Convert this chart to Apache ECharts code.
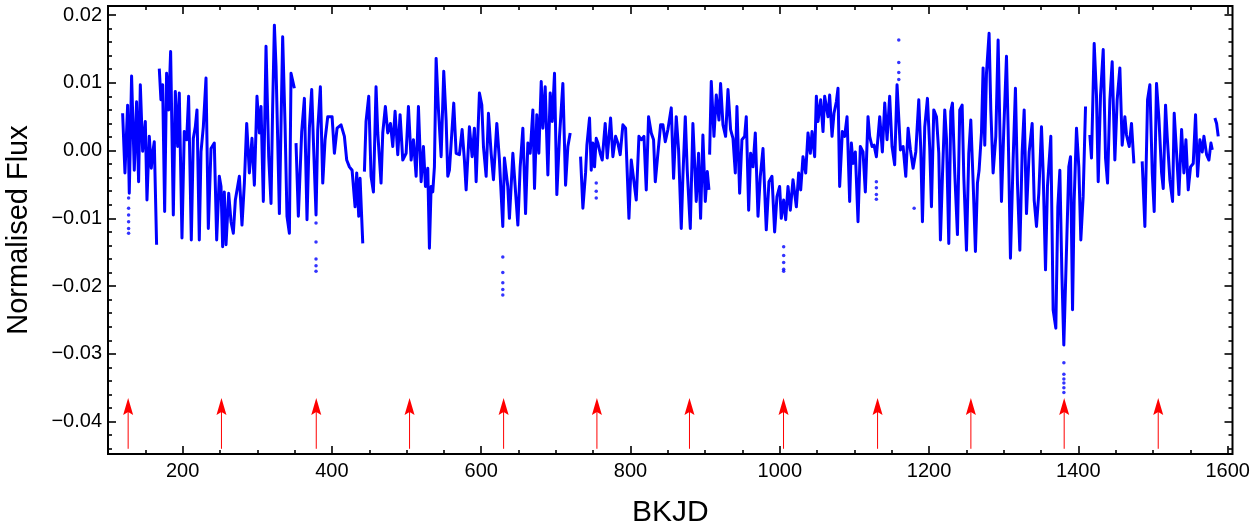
<!DOCTYPE html>
<html><head><meta charset="utf-8">
<script src="https://cdn.jsdelivr.net/npm/echarts@6/dist/echarts.min.js"></script>
<style>html,body{margin:0;padding:0;background:#fff}#c{width:1250px;height:529px}</style>
</head><body><div id="c"></div>
<script>
// ---- tick labels / tick positions ----
const xMajor = [200, 400, 600, 800, 1000, 1200, 1400, 1600];
const xMinor = [100, 150, 250, 300, 350, 450, 500, 550, 650, 700, 750, 850, 900, 950, 1050, 1100, 1150, 1250, 1300, 1350, 1450, 1500, 1550];
const yMajor = [-0.04, -0.03, -0.02, -0.01, 0, 0.01, 0.02];
const yMinor = [-0.044, -0.042, -0.038, -0.036, -0.034, -0.032, -0.028, -0.026, -0.024, -0.022, -0.018, -0.016, -0.014, -0.012, -0.008, -0.006, -0.004, -0.002, 0.002, 0.004, 0.006, 0.008, 0.012, 0.014, 0.016, 0.018];

// ---- light curve segments [BKJD, normalised flux] ----
const seg1 = [[119.6,0.0055],[122.7,-0.0033],[126.3,0.0067],[128.5,-0.0063],[131.6,0.0110],[135.2,-0.0029],[138.3,0.0072],[141.0,-0.0046],[143.3,0.0097],[146.4,-0.0001],[150.0,0.0043],[152.2,-0.0073],[155.3,0.0021],[158.0,-0.0026],[159.8,-0.0004],[162.0,0.0013],[165.1,-0.0139]];
const seg2 = [[168.7,0.0121],[170.9,0.0075],[173.2,0.0097],[175.9,-0.0090],[178.5,0.0114],[181.2,0.0060],[183.9,0.0146],[187.5,-0.0095],[190.2,0.0087],[193.3,0.0006],[195.5,0.0085],[199.1,-0.0129],[202.2,0.0028],[205.4,0.0016],[208.0,0.0080],[211.6,-0.0132],[214.3,0.0018],[217.0,0.0035],[219.2,0.0060],[222.3,-0.0132],[224.6,-0.0002],[227.7,0.0035],[231.3,0.0107],[234.4,-0.0115],[238.0,0.0003],[242.4,0.0011],[245.6,-0.0132],[249.1,-0.0038],[251.4,-0.0053],[253.6,-0.0142],[255.8,-0.0061],[258.1,-0.0139],[261.7,-0.0063],[264.8,-0.0105],[267.9,-0.0122],[270.6,-0.0073],[276.0,-0.0038],[279.5,-0.0110],[282.7,-0.0048],[285.8,0.0040],[289.4,-0.0033],[292.9,0.0018],[296.1,-0.0051],[299.6,0.0080],[302.8,0.0026],[305.0,0.0065],[308.1,-0.0075],[311.7,0.0154],[315.3,-0.0009],[318.4,-0.0078],[320.6,0.0065],[322.9,0.0185],[325.1,0.0124],[329.6,-0.0093],[334.0,0.0168],[337.2,0.0038],[339.8,-0.0097],[343.0,-0.0122],[345.2,0.0114],[349.7,0.0092]];
const seg3 = [[351.9,0.0011],[355.0,-0.0097],[359.5,0.0028],[363.1,0.0077],[366.6,-0.0102],[369.8,0.0033],[372.9,0.0090],[375.1,0.0016],[378.7,-0.0095],[381.0,0.0031],[384.5,0.0094],[387.7,-0.0048],[390.8,0.0016],[394.4,0.0050],[400.2,0.0050],[403.3,-0.0004],[406.9,0.0033],[412.2,0.0038],[416.7,0.0021],[419.8,-0.0014],[423.4,-0.0024],[427.0,-0.0029],[431.0,-0.0083],[433.2,-0.0033],[435.9,-0.0097],[437.7,-0.0041],[441.3,-0.0137]];
const seg4 = [[443.5,-0.0031],[445.7,0.0043],[449.3,0.0080],[452.4,-0.0038],[455.6,-0.0061],[459.1,0.0094],[461.4,0.0026],[465.8,-0.0048],[468.1,0.0026],[471.6,0.0065],[474.8,0.0026],[478.4,0.0040],[481.5,0.0006],[484.6,0.0058],[488.2,-0.0006],[491.3,0.0053],[494.9,-0.0014],[499.4,-0.0004],[502.5,0.0065],[506.1,-0.0014],[509.2,0.0016],[512.8,-0.0038],[515.9,0.0065],[519.5,-0.0046],[522.6,0.0006],[525.3,-0.0053],[528.4,-0.0026],[530.6,-0.0144],[532.9,-0.0053],[535.1,-0.0061],[537.3,-0.0024],[539.6,0.0136],[542.7,0.0060],[546.3,-0.0009],[549.8,0.0117],[553.0,0.0045],[555.2,-0.0038],[557.4,-0.0029],[563.2,0.0070],[566.4,-0.0004],[570.8,-0.0006],[574.4,0.0031],[577.5,-0.0014],[579.8,-0.0058],[584.2,0.0035],[587.8,-0.0009],[590.9,0.0033],[593.2,-0.0046],[597.6,0.0085],[600.8,0.0067],[603.0,0.0006],[606.6,-0.0038],[609.7,0.0055],[613.3,-0.0004],[616.4,-0.0043],[620.9,0.0040],[624.4,-0.0014],[628.9,-0.0112],[631.1,-0.0011],[635.6,-0.0053],[637.8,-0.0100],[642.4,-0.0004],[649.1,-0.0110],[652.2,-0.0024],[655.8,0.0033],[659.4,-0.0093],[662.5,0.0011],[665.6,-0.0004],[669.2,0.0060],[671.4,-0.0056],[674.5,0.0053],[677.2,-0.0004],[680.4,0.0102],[682.6,0.0033],[685.7,0.0094],[689.3,-0.0036],[692.4,0.0085],[695.1,0.0043],[698.2,0.0114],[701.3,-0.0065],[704.9,0.0021],[709.4,0.0099],[713.0,-0.0051],[716.1,0.0006],[719.2,0.0026]];
const seg5 = [[733.1,-0.0009],[736.2,-0.0085],[739.8,-0.0033],[741.6,0.0008],[745.1,0.0048],[747.4,-0.0029],[749.6,0.0011],[751.8,-0.0024],[754.1,0.0018],[756.3,0.0011],[759.4,-0.0004],[762.1,-0.0014],[766.1,0.0040],[768.8,-0.0011],[773.3,0.0048],[776.4,-0.0009],[780.0,0.0021],[783.1,0.0011],[786.2,-0.0006],[789.8,0.0038],[793.4,0.0033],[797.9,-0.0100],[801.0,-0.0014],[803.2,-0.0014],[807.7,-0.0073],[811.3,0.0021],[814.4,0.0016],[818.0,0.0021],[821.1,-0.0058],[824.2,0.0050],[827.8,0.0026],[830.9,0.0016],[833.2,-0.0046],[836.7,-0.0004],[840.3,0.0038],[843.4,0.0038],[846.6,0.0013],[850.1,0.0031],[854.6,0.0063],[857.7,-0.0041],[861.3,0.0050],[864.4,0.0001],[868.0,-0.0115],[870.2,-0.0038],[873.4,0.0050],[876.0,-0.0029],[880.1,-0.0115],[883.6,0.0040],[888.1,-0.0075],[891.2,-0.0004],[893.9,-0.0100],[897.0,0.0023],[900.2,-0.0075],[902.9,-0.0031],[905.1,-0.0058]];
const seg6 = [[906.0,-0.0006],[908.2,0.0102],[911.8,0.0021],[914.9,0.0082],[918.5,0.0045],[920.7,0.0099],[923.9,0.0038],[927.4,0.0021],[930.6,0.0090],[934.1,0.0031],[937.3,0.0018],[940.4,-0.0033],[942.6,0.0065],[946.2,-0.0063],[949.3,0.0016],[952.9,0.0021],[955.1,0.0050],[958.3,-0.0088],[960.9,-0.0004],[964.1,-0.0024],[967.2,0.0026],[970.8,-0.0097],[973.9,-0.0038],[977.5,0.0003],[981.9,-0.0117],[985.5,-0.0046],[989.5,-0.0038],[993.1,-0.0120],[996.2,-0.0068],[999.8,-0.0053],[1002.0,-0.0100],[1005.2,-0.0073],[1007.9,-0.0102],[1011.0,-0.0053],[1014.1,-0.0088],[1017.7,-0.0043],[1022.2,-0.0083],[1025.3,-0.0033],[1028.0,-0.0058],[1031.1,-0.0009],[1034.7,-0.0033],[1037.8,0.0026],[1040.9,-0.0004],[1043.2,0.0028],[1046.7,-0.0009],[1049.0,0.0080],[1051.2,0.0043],[1054.8,0.0075],[1057.9,0.0028],[1060.1,0.0080],[1064.6,0.0050],[1066.8,0.0082],[1070.0,0.0021],[1072.6,0.0055],[1075.8,0.0072],[1078.0,0.0092],[1080.2,-0.0053],[1083.8,0.0028],[1086.9,0.0021],[1090.1,0.0050],[1093.6,-0.0075],[1095.9,0.0011],[1098.1,-0.0019],[1101.2,-0.0002],[1104.8,-0.0105],[1107.9,0.0006],[1111.5,-0.0002],[1114.6,-0.0061],[1118.2,0.0050],[1120.4,0.0021],[1123.6,0.0006],[1126.3,0.0008],[1129.4,-0.0009],[1133.9,0.0050],[1137.4,-0.0002],[1140.6,0.0070],[1143.7,0.0016],[1147.2,0.0080],[1150.4,0.0006],[1153.9,-0.0021],[1157.1,0.0097],[1161.6,0.0001],[1165.2,0.0006],[1168.8,-0.0038],[1171.9,0.0033],[1175.0,0.0001],[1178.6,-0.0026],[1182.2,-0.0002],[1186.2,0.0075],[1188.9,0.0001],[1191.1,-0.0105],[1194.2,0.0035],[1197.8,0.0077],[1200.9,0.0003],[1203.2,-0.0083],[1206.3,0.0060],[1209.9,0.0050],[1213.0,-0.0004],[1215.2,-0.0132],[1217.9,-0.0038],[1221.0,0.0060],[1223.3,0.0018],[1226.4,-0.0137],[1229.1,0.0058],[1231.3,0.0070],[1234.4,-0.0033],[1238.0,-0.0124],[1241.1,0.0060],[1244.3,0.0067],[1246.5,-0.0038],[1250.1,-0.0147],[1253.2,-0.0004],[1255.9,0.0045],[1259.0,-0.0046],[1262.1,-0.0149],[1264.8,-0.0048],[1267.0,-0.0029],[1270.2,0.0026],[1272.4,0.0122],[1274.6,0.0008],[1276.9,0.0114],[1280.4,0.0173],[1282.7,0.0060],[1285.8,-0.0033],[1289.4,0.0021],[1292.5,0.0163],[1294.7,0.0040],[1297.0,-0.0075],[1300.1,0.0031],[1303.7,0.0139],[1305.9,0.0033],[1309.0,-0.0159],[1312.6,-0.0014],[1315.7,0.0092],[1318.4,-0.0048],[1321.6,-0.0147],[1324.7,-0.0002],[1327.4,0.0060],[1330.5,-0.0093],[1334.1,-0.0002],[1338.1,0.0040],[1340.8,-0.0073],[1343.9,-0.0112],[1347.0,-0.0063],[1350.6,0.0035],[1352.8,-0.0031],[1356.0,-0.0176],[1358.6,-0.0053],[1363.1,0.0021],[1366.2,-0.0235],[1369.8,-0.0262],[1372.5,-0.0083],[1375.2,-0.0029],[1377.9,-0.0181],[1380.5,-0.0287],[1384.1,-0.0147],[1387.2,-0.0024],[1389.5,-0.0009],[1392.2,-0.0235],[1394.4,-0.0073],[1397.5,0.0033],[1400.6,-0.0024],[1403.3,-0.0132],[1406.4,-0.0068],[1409.6,0.0065]];
const seg7 = [[1415.4,0.0023],[1417.6,-0.0011],[1421.2,0.0158],[1424.3,0.0080],[1426.6,-0.0046],[1429.7,0.0082],[1433.3,0.0149],[1436.4,-0.0011],[1439.1,-0.0048],[1442.2,0.0075],[1445.3,0.0131],[1448.9,-0.0014],[1452.0,0.0075],[1455.6,0.0122],[1458.7,0.0008],[1462.3,0.0050],[1464.5,0.0023],[1468.1,0.0006],[1471.2,0.0040],[1474.4,-0.0019]];
const seg8 = [[1485.5,-0.0016],[1489.1,-0.0112],[1492.7,0.0075],[1495.8,0.0097],[1499.0,-0.0033],[1501.6,-0.0090],[1504.7,0.0099],[1507.9,0.0048],[1511.5,-0.0033],[1513.7,-0.0056],[1516.8,0.0067],[1519.0,0.0021],[1522.6,-0.0043],[1526.2,-0.0075],[1528.4,0.0055],[1531.6,-0.0004],[1534.7,-0.0065],[1538.3,0.0031],[1541.4,-0.0033],[1544.1,0.0016],[1547.2,-0.0058],[1550.3,-0.0024],[1553.9,-0.0019],[1557.0,0.0053],[1559.7,-0.0038],[1562.8,0.0016],[1566.0,-0.0002],[1568.2,0.0021],[1571.8,-0.0006],[1574.9,-0.0014],[1577.6,0.0011],[1579.4,0.0001]];
const seg9 = [[1582.9,0.0048],[1585.2,0.0040],[1587.4,0.0021]];
const segments = [seg1, seg2, seg3, seg4, seg5, seg6, seg7, seg8, seg9];

// isolated low/high points (in-transit / outlier cadences)
const outliers = [[127.6,-0.0070],[127.6,-0.0085],[127.6,-0.0095],[127.6,-0.0105],[127.6,-0.0115],[127.6,-0.0122],[378.7,-0.0107],[378.7,-0.0135],[378.7,-0.0160],[378.7,-0.0170],[378.7,-0.0178],[628.9,-0.0157],[628.9,-0.0180],[628.9,-0.0195],[628.9,-0.0205],[628.9,-0.0213],[754.1,-0.0048],[754.1,-0.0060],[754.1,-0.0070],[1005.2,-0.0142],[1005.2,-0.0155],[1005.2,-0.0165],[1005.2,-0.0175],[1005.2,-0.0178],[1129.4,-0.0046],[1129.4,-0.0055],[1129.4,-0.0065],[1129.4,-0.0072],[1159.4,0.0163],[1159.4,0.0130],[1159.4,0.0115],[1159.4,0.0105],[1180.0,-0.0085],[1380.6,-0.0313],[1380.6,-0.0330],[1380.6,-0.0337],[1380.6,-0.0343],[1380.6,-0.0350],[1380.6,-0.0357]];

// arrows marking predicted times
const arrowX = [127, 252, 379, 504, 630, 755, 879, 1005, 1131, 1256, 1381, 1507];
const arrowBase = -0.0440;
const arrowTip = -0.0365;

const FONT = 'Liberation Sans, Arial, Helvetica, sans-serif';
const XMIN = 100, XMAX = 1606.5, YMIN = -0.04477, YMAX = 0.02133;

function fmtY(v){
  const s = Math.abs(v).toFixed(2);
  return (v < -1e-9 ? '\u2212' : '') + s;
}
function fmtX(v){ return String(Math.round(v)); }
function tickAxis(base, pos, vals, len, labels){
  return {
    type: 'value', min: base.min, max: base.max, position: pos,
    axisLine: {show: false, onZero: false},
    splitLine: {show: false},
    axisTick: {show: true, inside: true, length: len, customValues: vals, lineStyle: {color: '#000', width: 1.6}},
    axisLabel: labels ? Object.assign({customValues: vals}, labels) : {show: false}
  };
}

const chart = echarts.init(document.getElementById('c'), null, {renderer: 'canvas'});
const xb = {min: XMIN, max: XMAX}, yb = {min: YMIN, max: YMAX};

const xAxes = [
  Object.assign(tickAxis(xb, 'bottom', xMajor, 8, {fontSize: 20, color: '#000', fontFamily: FONT, margin: 7, formatter: fmtX}), {
    name: 'BKJD', nameLocation: 'middle', nameGap: 44,
    nameTextStyle: {fontSize: 30, color: '#000', fontFamily: FONT}
  }),
  tickAxis(xb, 'bottom', xMinor, 4, null),
  tickAxis(xb, 'top', xMajor, 8, null),
  tickAxis(xb, 'top', xMinor, 4, null)
];
const yAxes = [
  Object.assign(tickAxis(yb, 'left', yMajor, 8, {fontSize: 20, color: '#000', fontFamily: FONT, margin: 6, formatter: fmtY}), {
    name: 'Normalised Flux', nameLocation: 'middle', nameGap: 75,
    nameTextStyle: {fontSize: 29, color: '#000', fontFamily: FONT}
  }),
  tickAxis(yb, 'left', yMinor, 4, null),
  tickAxis(yb, 'right', yMajor, 8, null),
  tickAxis(yb, 'right', yMinor, 4, null)
];

const series = segments.map(seg => ({
  type: 'line', xAxisIndex: 0, yAxisIndex: 0, data: seg,
  showSymbol: false, symbol: 'none', silent: true, animation: false,
  lineStyle: {color: '#0000ff', width: 3, join: 'round'}
}));
series.push({
  type: 'scatter', xAxisIndex: 0, yAxisIndex: 0, data: outliers,
  symbol: 'circle', symbolSize: 3.5, silent: true, animation: false,
  itemStyle: {color: '#0000ff'}
});
series.push({
  type: 'custom', xAxisIndex: 0, yAxisIndex: 0, silent: true, animation: false,
  data: arrowX.map(x => [x, arrowBase, arrowTip]),
  encode: {x: 0, y: [1, 2]},
  renderItem: function(params, api){
    const x = api.value(0);
    const pb = api.coord([x, api.value(1)]);
    const pt = api.coord([x, api.value(2)]);
    const hl = 17, hw = 5;
    return {type: 'group', children: [
      {type: 'line', shape: {x1: pb[0], y1: pb[1], x2: pt[0], y2: pt[1] + hl - 3}, style: {stroke: '#ff0000', lineWidth: 1}},
      {type: 'polygon', shape: {points: [[pt[0], pt[1]], [pt[0] + hw, pt[1] + hl], [pt[0], pt[1] + hl - 3], [pt[0] - hw, pt[1] + hl]]}, style: {fill: '#ff0000'}}
    ]};
  }
});

chart.setOption({
  animation: false,
  backgroundColor: '#fff',
  grid: {left: 108, right: 17.5, top: 6, bottom: 75, show: true, borderColor: '#000', borderWidth: 2, backgroundColor: 'transparent', containLabel: false, outerBoundsMode: 'none'},
  xAxis: xAxes,
  yAxis: yAxes,
  series: series
});
</script>
</body></html>
